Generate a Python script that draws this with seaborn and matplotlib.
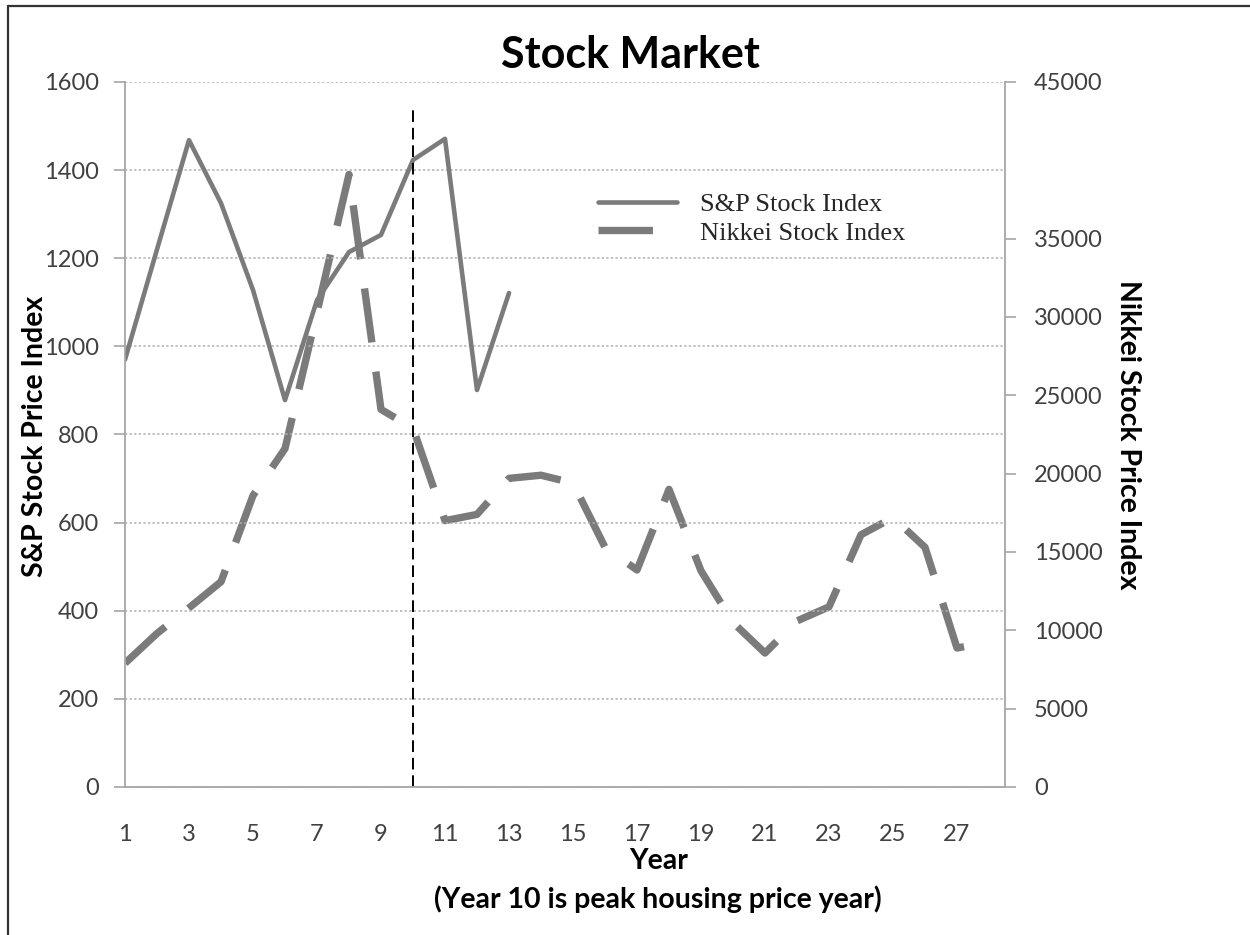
import matplotlib
matplotlib.use("Agg")
import matplotlib.pyplot as plt
import seaborn as sns
import pandas as pd
from matplotlib.lines import Line2D

# data
years_sp = list(range(1, 14))
sp_index = [970, 1220, 1468, 1325, 1128, 878, 1105, 1214, 1253, 1423, 1471, 901, 1121]

years_nk = list(range(1, 29))
nikkei_index = [7900, 9800, 11430, 13100, 18600, 21600, 30300, 39100, 24100, 22900,
                17000, 17400, 19700, 19900, 19400, 15300, 13850, 19000, 13800, 10500,
                8550, 10600, 11500, 16100, 17200, 15300, 8870, 9250]

peak_year = 10
peak_line_top = 1540

left_ticks = list(range(0, 1601, 200))
right_ticks = [0, 5000, 10000, 15000, 20000, 25000, 30000, 35000, 45000]
x_ticks = list(range(1, 29))
x_labels = [str(y) if y % 2 == 1 else "" for y in x_ticks]

sp_df = pd.DataFrame({"year": years_sp, "value": sp_index})
nk_df = pd.DataFrame({"year": years_nk, "value": nikkei_index})

sns.set_style("white")
plt.rcParams["font.family"] = ["Lato", "DejaVu Sans"]

line_color = "#7b7b7b"
axis_color = "#a6a6a6"
text_color = "#404040"

fig = plt.figure(figsize=(12.5, 9.35), dpi=100)
ax = fig.add_axes([0.1, 0.1583, 0.704, 0.7540])
ax2 = ax.twinx()

sns.lineplot(data=sp_df, x="year", y="value", ax=ax, color=line_color,
             linewidth=3.3, label="S&P Stock Index", legend=False)
sns.lineplot(data=nk_df, x="year", y="value", ax=ax2, color=line_color,
             linewidth=5.3, label="Nikkei Stock Index", legend=False)
nk_line = ax2.lines[0]
nk_line.set_dashes([7.4, 4.0])
nk_line.set_dash_capstyle("butt")
nk_line.set_dash_joinstyle("round")

ax.plot([peak_year, peak_year], [0, peak_line_top], color="black",
        linewidth=1.4, dashes=(6, 3))

ax.set_xlim(1, 28.5)
ax.set_ylim(0, 1600)
ax2.set_ylim(0, 45000)

ax.set_xticks(x_ticks)
ax.set_xticklabels(x_labels)
ax.set_yticks(left_ticks)
ax2.set_yticks(right_ticks)
ax2.set_yticklabels([str(t) for t in right_ticks])

ax.yaxis.grid(True, color="#b0b0b0", linestyle=(0, (1.5, 1.5)), linewidth=1.1)
ax.xaxis.grid(False)
ax2.grid(False)
ax.set_zorder(ax2.get_zorder() + 1)
ax.patch.set_visible(False)

for a in (ax, ax2):
    for s in a.spines.values():
        s.set_visible(False)
    a.tick_params(axis="both", which="both", direction="out", length=8,
                  width=1.2, color=axis_color, labelsize=17,
                  labelcolor=text_color, pad=6)
for a, side in ((ax, "left"), (ax, "bottom"), (ax2, "right")):
    a.spines[side].set_visible(True)
    a.spines[side].set_color(axis_color)
    a.spines[side].set_linewidth(1.3)
ax.tick_params(axis="x", pad=19)
ax.tick_params(axis="y", pad=11)
ax2.tick_params(axis="y", pad=13)

ax.set_xlabel("Year\n(Year 10 is peak housing price year)", fontsize=20.5,
              fontweight="bold", color="black", linespacing=1.5)
ax.xaxis.set_label_coords(0.606, -0.087)
ax.set_ylabel("S&P Stock Price Index", fontsize=20.5, fontweight="bold",
              color="black")
ax.yaxis.set_label_coords(-0.087, 0.497)
ax2.set_ylabel("Nikkei Stock Price Index", fontsize=20.5, fontweight="bold",
               color="black", rotation=-90, labelpad=27)

fig.text(0.504, 0.941, "Stock Market", ha="center", va="center",
         fontsize=31, fontweight="bold", color="black")

handles = [ax.lines[0], nk_line]
leg = ax.legend(handles, ["S&P Stock Index", "Nikkei Stock Index"],
                loc="upper left", bbox_to_anchor=(0.51, 0.877), frameon=False,
                prop={"family": "Liberation Serif", "size": 19},
                handlelength=3.0, handletextpad=0.9, labelspacing=0.2)

# outer frame (left and top edge only)
fig.add_artist(Line2D([0.0064, 0.0064], [0.0, 0.9936], color="#333333",
                      linewidth=1.6, transform=fig.transFigure))
fig.add_artist(Line2D([0.0064, 1.0], [0.9936, 0.9936], color="#333333",
                      linewidth=1.6, transform=fig.transFigure))

fig.savefig("out.png", dpi=100)
